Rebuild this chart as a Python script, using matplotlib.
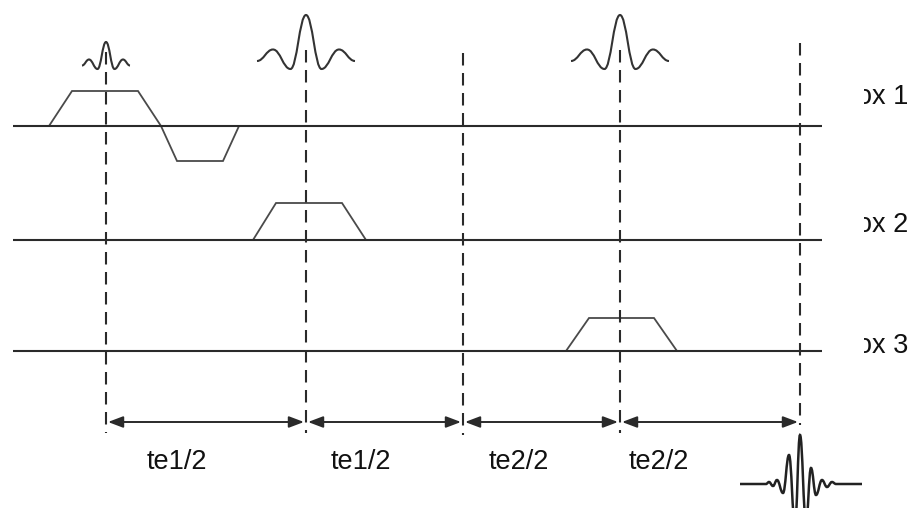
import matplotlib
matplotlib.use("Agg")
import matplotlib.pyplot as plt
from matplotlib.path import Path
from matplotlib.patches import PathPatch, Polygon
from matplotlib.transforms import Bbox, TransformedBbox

# ---------------- data (pixel-space diagram coordinates) ----------------
row_y = [126, 240, 351]                 # channel baselines
row_x_range = (13, 822)
row_labels = ["ox 1", "ox 2", "ox 3"]
row_label_y = [97, 225, 346]

dash_x = [106, 306, 463, 620, 800]      # timing markers
dash_top = [52, 50, 53, 50, 43]
dash_bottom = [433, 433, 435, 433, 425]

interval_labels = ["te1/2", "te1/2", "te2/2", "te2/2"]
interval_label_x = [177, 361, 519, 659]
arrow_y = 422

# gradient lobes: (row, start, ramp-up end, flat end, stop, amplitude up)
grad_row = [0, 0, 1, 2]
grad_t0 = [49, 161, 253, 566]
grad_t1 = [72, 177, 276, 589]
grad_t2 = [138, 223, 342, 654]
grad_t3 = [161, 239, 366, 677]
grad_amp = [35, -35, 37, 33]

# RF pulses: centre and glyph (extrema offsets / y levels)
rf_center = [106, 306, 620]
rf_kind = ["small", "big", "big"]
rf_small_dx = [-24, -17, -8.5, 0, 8.5, 17, 24]
rf_small_y = [65.5, 59.5, 69, 42, 69, 59.5, 65.5]
rf_big_dx = [-49, -33, -15.5, 0, 15.5, 33, 49]
rf_big_y = [61, 49.5, 69, 15, 69, 49.5, 61]

# echo glyph extrema
echo_x = [740, 766, 769, 773, 777, 783, 789, 795, 800, 806, 811, 816, 822, 827, 832, 836, 862]
echo_y = [484, 484, 482, 486, 480, 493, 455, 525, 435, 522, 468, 495, 480, 487, 482, 484, 484]

# ---------------- drawing ----------------
plt.rcParams['lines.scale_dashes'] = False
fig = plt.figure(figsize=(9.17, 5.08), dpi=100)
ax = fig.add_axes([0, 0, 1, 1])
ax.set_xlim(0, 917)
ax.set_ylim(508, 0)
ax.axis("off")

LINE = "#2a2a2a"
GRAD = "#4a4a4a"


def smooth_path(xs, ys):
    verts = [(xs[0], ys[0])]
    codes = [Path.MOVETO]
    for i in range(len(xs) - 1):
        d = (xs[i + 1] - xs[i]) * 0.42
        verts += [(xs[i] + d, ys[i]), (xs[i + 1] - d, ys[i + 1]), (xs[i + 1], ys[i + 1])]
        codes += [Path.CURVE4] * 3
    return Path(verts, codes)


# baselines
for y in row_y:
    ax.plot(row_x_range, [y, y], color=LINE, lw=1.5, solid_capstyle="butt")

# gradients
for r, a, b, c, d, amp in zip(grad_row, grad_t0, grad_t1, grad_t2, grad_t3, grad_amp):
    y0 = row_y[r]
    pts = [(a, y0), (b, y0 - amp), (c, y0 - amp), (d, y0)]
    ax.add_patch(Polygon(pts, closed=True, fill=False, edgecolor=GRAD, lw=1.3,
                         joinstyle="miter"))

# RF pulses
for cx, kind in zip(rf_center, rf_kind):
    dxs, ys = (rf_small_dx, rf_small_y) if kind == "small" else (rf_big_dx, rf_big_y)
    ax.add_patch(PathPatch(smooth_path([cx + d for d in dxs], ys), fill=False,
                           edgecolor="#333333", lw=1.5))

# timing markers
for x, t, b in zip(dash_x, dash_top, dash_bottom):
    ax.plot([x, x], [t, b], color=LINE, lw=1.5, linestyle=(0, (9, 5.4)),
            dash_capstyle="butt")

# interval arrows
for i in range(len(dash_x) - 1):
    ax.annotate("", xy=(dash_x[i + 1] - 2, arrow_y), xytext=(dash_x[i] + 2, arrow_y),
                arrowprops=dict(arrowstyle="<|-|>,head_length=0.45,head_width=0.17",
                                mutation_scale=20, color=LINE, lw=1.4,
                                shrinkA=0, shrinkB=0))

# interval labels
for x, s in zip(interval_label_x, interval_labels):
    ax.text(x, 462, s, ha="center", va="center", fontsize=19.5,
            family="Liberation Sans", color="#111111")

# row labels (clipped at the left like the reference)
clip = TransformedBbox(Bbox([[864, 0], [917, 508]]), ax.transData)
for y, s in zip(row_label_y, row_labels):
    t = ax.text(908, y, s, ha="right", va="center", fontsize=19.5,
                family="Liberation Sans", color="#111111")
    t.set_clip_box(clip)
    t.set_clip_on(True)

# echo
ax.add_patch(PathPatch(smooth_path(echo_x, echo_y), fill=False, edgecolor="#222222", lw=1.8))

fig.savefig("out.png", dpi=100)
